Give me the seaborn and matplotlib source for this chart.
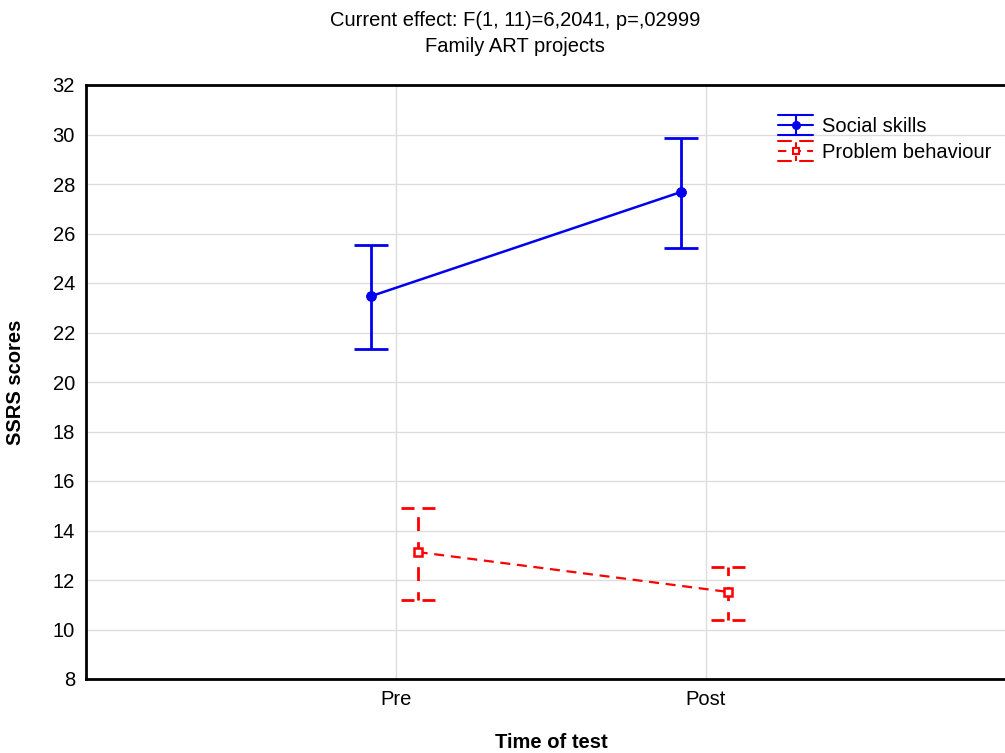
import matplotlib
matplotlib.use("Agg")
import matplotlib.pyplot as plt
from matplotlib.lines import Line2D
from matplotlib.legend_handler import HandlerBase
import seaborn as sns
import pandas as pd
import numpy as np

# Data
times = ["Pre", "Post"]
social_mean = [23.47, 27.68]
social_upper = [25.54, 29.86]
social_lower = [21.33, 25.41]
problem_mean = [13.13, 11.52]
problem_upper = [14.91, 12.53]
problem_lower = [11.19, 10.38]
series_names = ["Social skills", "Problem behaviour"]
yticks = [8, 10, 12, 14, 16, 18, 20, 22, 24, 26, 28, 30, 32]

sns.set_theme(style="white")
plt.rcParams['font.family'] = ['Liberation Sans', 'DejaVu Sans']
plt.rcParams['text.color'] = 'black'
plt.rcParams['axes.labelcolor'] = 'black'

fig = plt.figure(figsize=(10.05, 7.53), dpi=100)
ax = fig.add_axes([86/1005, 74/753, 930/1005, 594/753])

x = np.arange(len(times))
offsets = [-0.08, 0.07]
colors = ["#0000ee", "#ff0000"]

df = pd.DataFrame({
    "x": np.concatenate([x + offsets[0], x + offsets[1]]),
    "mean": social_mean + problem_mean,
    "series": [series_names[0]] * 2 + [series_names[1]] * 2,
})

# lines
sns.lineplot(data=df[df.series == series_names[0]], x="x", y="mean", ax=ax,
             color=colors[0], lw=1.8, marker="o", markersize=7,
             markeredgecolor=colors[0], legend=False, zorder=3)
sns.lineplot(data=df[df.series == series_names[1]], x="x", y="mean", ax=ax,
             color=colors[1], lw=1.6, linestyle=(0, (4.5, 3)), marker="s", markersize=5.5,
             markerfacecolor="white", markeredgecolor=colors[1], markeredgewidth=1.8,
             legend=False, zorder=3)

cap = 0.055
gap = 0.013
# social error bars (solid)
xs = x + offsets[0]
ax.vlines(xs, social_lower, social_upper, color=colors[0], lw=2, zorder=2)
ax.hlines(social_upper, xs - cap, xs + cap, color=colors[0], lw=2, zorder=2)
ax.hlines(social_lower, xs - cap, xs + cap, color=colors[0], lw=2, zorder=2)
# problem error bars (dashed)
xp = x + offsets[1]
ax.vlines(xp, problem_lower, problem_upper, color=colors[1], lw=2,
          linestyles=[(2, (5, 4))], zorder=2)
for yv in (problem_upper, problem_lower):
    ax.hlines(yv, xp - cap, xp - gap, color=colors[1], lw=2, zorder=2)
    ax.hlines(yv, xp + gap, xp + cap, color=colors[1], lw=2, zorder=2)


class ErrHandler(HandlerBase):
    def __init__(self, color, dashed, marker, mfc):
        super().__init__()
        self.color, self.dashed, self.marker, self.mfc = color, dashed, marker, mfc

    def create_artists(self, legend, orig_handle, xdescent, ydescent, width, height,
                       fontsize, trans):
        cx = width / 2 - xdescent
        cy = height / 2 - ydescent
        h = 7.5
        x0, x1 = -xdescent, width - xdescent
        arts = []
        if self.dashed:
            g = 3.0
            arts.append(Line2D([cx, cx], [cy - h, cy + h], color=self.color, lw=1.5,
                               ls=(1, (3.5, 3))))
            for yy in (cy - h, cy + h):
                arts.append(Line2D([x0, cx - g], [yy, yy], color=self.color, lw=1.5))
                arts.append(Line2D([cx + g, x1], [yy, yy], color=self.color, lw=1.5))
            arts.append(Line2D([x0, x1], [cy, cy], color=self.color, lw=1.5, ls=(0, (4, 3))))
        else:
            arts.append(Line2D([cx, cx], [cy - h, cy + h], color=self.color, lw=1.5))
            for yy in (cy - h, cy + h):
                arts.append(Line2D([x0, x1], [yy, yy], color=self.color, lw=1.5))
            arts.append(Line2D([x0, x1], [cy, cy], color=self.color, lw=1.5))
        arts.append(Line2D([cx], [cy], color=self.color, marker=self.marker, ms=5,
                           mfc=self.mfc, mec=self.color, mew=1.5, ls="none"))
        for a in arts:
            a.set_transform(trans)
        return arts


p1 = Line2D([], [], color=colors[0])
p2 = Line2D([], [], color=colors[1])
leg = ax.legend([p1, p2], series_names, loc="upper left",
                bbox_to_anchor=(778/1005, 1 - 117/753), bbox_transform=fig.transFigure,
                frameon=False, fontsize=14.5, handlelength=1.75, handletextpad=0.45,
                labelspacing=0.35, borderaxespad=0, borderpad=0,
                handler_map={p1: ErrHandler(colors[0], False, "o", colors[0]),
                             p2: ErrHandler(colors[1], True, "s", "white")})

ax.set_xlim(-1, 2)
ax.set_ylim(8, 32)
ax.set_yticks(yticks)
ax.set_xticks(x)
ax.set_xticklabels(times)
ax.set_xlabel("")
ax.tick_params(axis="both", labelsize=14.5, length=0, pad=8, colors="black")
ax.grid(True, color="#dddddd", lw=1)
ax.set_axisbelow(True)
for s in ax.spines.values():
    s.set_color("black")
    s.set_linewidth(2)

ax.set_ylabel("SSRS scores", fontsize=14.5, fontweight="bold", labelpad=20)
fig.text(551/1005, 1 - 742/753, "Time of test", ha="center", va="center",
         fontsize=14.5, fontweight="bold")
fig.text(515/1005, 1 - 20/753, "Current effect: F(1, 11)=6,2041, p=,02999",
         ha="center", va="center", fontsize=14.5)
fig.text(515/1005, 1 - 46/753, "Family ART projects",
         ha="center", va="center", fontsize=14.5)

fig.savefig("out.png", dpi=100)
